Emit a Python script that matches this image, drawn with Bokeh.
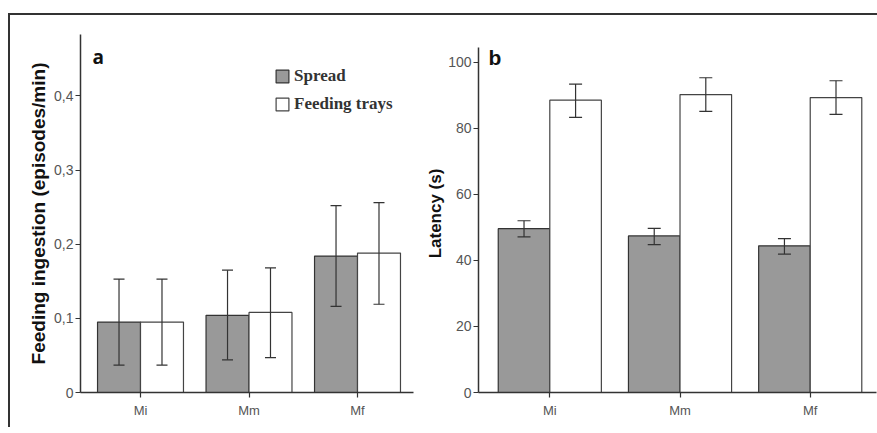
from bokeh.plotting import figure
from bokeh.models import (ColumnDataSource, Whisker, FixedTicker, Range1d, Label,
                          Legend, LegendItem, TeeHead, Div, Spacer)
from bokeh.layouts import row, column
from bokeh.transform import dodge
from bokeh.embed import file_html
from bokeh.resources import INLINE

categories = ["Mi", "Mm", "Mf"]
series = ["Spread", "Feeding trays"]

ingestion_spread = [0.095, 0.104, 0.184]
ingestion_spread_lo = [0.037, 0.044, 0.116]
ingestion_spread_hi = [0.153, 0.165, 0.252]
ingestion_trays = [0.095, 0.108, 0.188]
ingestion_trays_lo = [0.037, 0.047, 0.119]
ingestion_trays_hi = [0.153, 0.168, 0.256]

latency_spread = [49.6, 47.4, 44.4]
latency_spread_lo = [47.1, 44.8, 41.9]
latency_spread_hi = [52.0, 49.7, 46.6]
latency_trays = [88.5, 90.2, 89.3]
latency_trays_lo = [83.3, 85.1, 84.2]
latency_trays_hi = [93.4, 95.3, 94.4]

ingestion_ticks = [0, 0.1, 0.2, 0.3, 0.4]
latency_ticks = [0, 20, 40, 60, 80, 100]

xpos = list(range(1, len(categories) + 1))
BAR_W = 0.396
OFF = BAR_W / 2
SPREAD_FILL = "#999999"
EDGE = "#333333"
TICK_FONT = "Liberation Sans"
FIG_H = 412


def tick_label(t):
    return ("%g" % t).replace(".", ",")


def make_panel(width, x_rng, y_end, axis_top, ticks, ylabel, ylabel_size, label_standoff,
               spread, s_lo, s_hi, trays, t_lo, t_hi, head, borders):
    p = figure(width=width, height=FIG_H, x_range=Range1d(*x_rng), y_range=Range1d(0, y_end),
               output_backend="svg", toolbar_location=None, title=None,
               min_border_left=borders[0], min_border_right=borders[1],
               min_border_top=borders[2], min_border_bottom=borders[3])
    p.outline_line_color = None
    p.xgrid.visible = False
    p.ygrid.visible = False
    p.background_fill_color = "white"
    p.border_fill_color = "white"

    s_src = ColumnDataSource(dict(x=xpos, top=spread, lo=s_lo, hi=s_hi))
    t_src = ColumnDataSource(dict(x=xpos, top=trays, lo=t_lo, hi=t_hi))

    rs = p.vbar(x=dodge("x", -OFF, range=p.x_range), top="top", width=BAR_W, source=s_src,
                fill_color=SPREAD_FILL, line_color=EDGE, line_width=1.2)
    rt = p.vbar(x=dodge("x", OFF, range=p.x_range), top="top", width=BAR_W, source=t_src,
                fill_color="white", line_color="#444444", line_width=1.2)

    for src, off in ((s_src, -OFF), (t_src, OFF)):
        w = Whisker(base=dodge("x", off, range=p.x_range), upper="hi", lower="lo", source=src,
                    line_color=EDGE, line_width=1.2, level="annotation",
                    upper_head=TeeHead(size=head, line_color=EDGE, line_width=1.2),
                    lower_head=TeeHead(size=head, line_color=EDGE, line_width=1.2))
        p.add_layout(w)

    xa = p.xaxis[0]
    xa.ticker = FixedTicker(ticks=xpos)
    xa.major_label_overrides = {x: c for x, c in zip(xpos, categories)}
    ya = p.yaxis[0]
    ya.ticker = FixedTicker(ticks=ticks)
    ya.major_label_overrides = {t: tick_label(t) for t in ticks}
    ya.bounds = (0, axis_top)
    for ax in (xa, ya):
        ax.axis_line_color = EDGE
        ax.axis_line_width = 1.5
        ax.major_tick_line_color = EDGE
        ax.major_tick_line_width = 1.2
        ax.major_tick_in = 0
        ax.major_tick_out = 5
        ax.minor_tick_line_color = None
        ax.major_label_text_font = TICK_FONT
        ax.major_label_text_color = "#555555"
    xa.major_label_text_font_size = "13px"
    ya.major_label_text_font_size = "14px"
    xa.major_label_standoff = 5
    ya.major_label_standoff = 2
    ya.axis_label = ylabel
    ya.axis_label_text_font = "Liberation Sans"
    ya.axis_label_text_font_style = "bold"
    ya.axis_label_text_font_size = ylabel_size
    ya.axis_label_text_color = "#111111"
    ya.axis_label_standoff = label_standoff
    return p, rs, rt


INGESTION_TOP = 0.4827
LATENCY_TOP = 104.5

pa, ra_s, ra_t = make_panel(408, (0.447, 3.516), INGESTION_TOP, INGESTION_TOP,
                            ingestion_ticks, "Feeding ingestion (episodes/min)", "19px", 2,
                            ingestion_spread, ingestion_spread_lo, ingestion_spread_hi,
                            ingestion_trays, ingestion_trays_lo, ingestion_trays_hi,
                            11, (70, 5, 19, 35))
pb, rb_s, rb_t = make_panel(459, (0.4524, 3.509), 108.4, LATENCY_TOP, latency_ticks,
                            "Latency (s)", "17px", 0,
                            latency_spread, latency_spread_lo, latency_spread_hi,
                            latency_trays, latency_trays_lo, latency_trays_hi,
                            13, (60, 1, 19, 35))

pa.add_layout(Label(x=pa.x_range.start, y=INGESTION_TOP, x_offset=12, y_offset=-22, text="a",
                    text_font="Open Sans", text_font_style="bold", text_font_size="19px",
                    text_color="#111111", text_baseline="alphabetic"))
pb.add_layout(Label(x=pb.x_range.start, y=LATENCY_TOP, x_offset=10, y_offset=-10, text="b",
                    text_font="Liberation Sans", text_font_style="bold", text_font_size="21px",
                    text_color="#111111", text_baseline="alphabetic"))

legend = Legend(items=[LegendItem(label=series[0], renderers=[ra_s]),
                       LegendItem(label=series[1], renderers=[ra_t])],
                location=(194, 278), padding=0, margin=0, spacing=8,
                glyph_width=16, glyph_height=16, label_height=20, label_standoff=4,
                label_text_font="Liberation Serif", label_text_font_style="bold",
                label_text_font_size="17px", label_text_color="#333333",
                border_line_color=None, background_fill_alpha=0)
pa.add_layout(legend)

line_style = {"background-color": "#333333"}
top_line = Div(text="", width=869, height=2, margin=0, styles=line_style)
left_line = Div(text="", width=2, height=FIG_H, margin=0, styles=line_style)
body = column(Spacer(height=13, width=869, margin=0), top_line,
              row(left_line, pa, pb, spacing=0), spacing=0)
layout = row(Spacer(width=8, height=FIG_H + 15, margin=0), body, spacing=0)

open("out.html", "w").write(file_html(layout, INLINE))
